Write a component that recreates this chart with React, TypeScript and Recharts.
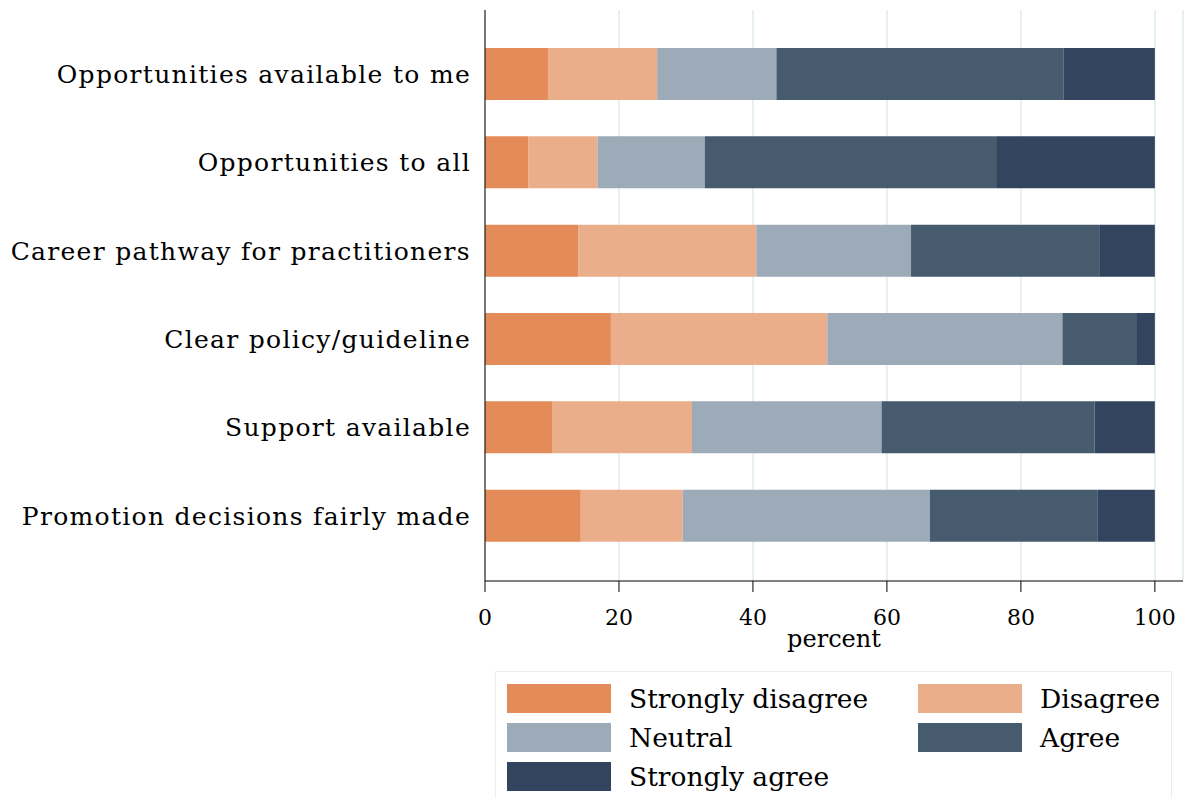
import { BarChart, Bar, XAxis, YAxis, CartesianGrid, ReferenceLine } from 'recharts';

const categories = [
  'Opportunities available to me',
  'Opportunities to all',
  'Career pathway for practitioners',
  'Clear policy/guideline',
  'Support available',
  'Promotion decisions fairly made',
];

const stronglyDisagree = [9.4, 6.5, 13.9, 18.8, 10.1, 14.3];
const disagree = [16.3, 10.3, 26.6, 32.3, 20.8, 15.2];
const neutral = [17.8, 16.0, 23.1, 35.1, 28.3, 36.9];
const agree = [42.9, 43.5, 28.2, 11.0, 31.8, 25.0];
const stronglyAgree = [13.6, 23.7, 8.2, 2.8, 9.0, 8.6];

const xTicks = [0, 20, 40, 60, 80, 100];

const series = [
  { key: 'sd', name: 'Strongly disagree', color: '#e38b59', values: stronglyDisagree },
  { key: 'd', name: 'Disagree', color: '#ebae8b', values: disagree },
  { key: 'n', name: 'Neutral', color: '#9dabb9', values: neutral },
  { key: 'a', name: 'Agree', color: '#475b6f', values: agree },
  { key: 'sa', name: 'Strongly agree', color: '#33455e', values: stronglyAgree },
];

const data = categories.map((category, i) => {
  const row: Record<string, string | number> = { category };
  series.forEach((s) => {
    row[s.key] = s.values[i];
  });
  return row;
});

const gridColor = '#e6f0f1';
const serif = '"DejaVu Serif", serif';

function LegendBox() {
  return (
    <div
      style={{
        position: 'absolute',
        left: 495,
        top: 671,
        width: 677,
        height: 140,
        border: `1px solid ${gridColor}`,
        boxSizing: 'border-box',
        fontFamily: serif,
        fontSize: 26.5,
        color: '#000',
      }}
    >
      {series.map((s, i) => (
        <div
          key={s.key}
          style={{
            position: 'absolute',
            left: i % 2 === 0 ? 11 : 422,
            top: 12 + Math.floor(i / 2) * 39,
            display: 'flex',
            alignItems: 'center',
            height: 29,
          }}
        >
          <div style={{ width: 104, height: 29, background: s.color }} />
          <span style={{ marginLeft: 18, whiteSpace: 'nowrap' }}>{s.name}</span>
        </div>
      ))}
    </div>
  );
}

export default function App() {
  return (
    <div style={{ position: 'absolute', left: 0, top: 0, width: 1186, height: 798, background: '#fff', overflow: 'hidden' }}>
      <BarChart
        width={1186}
        height={798}
        data={data}
        layout="vertical"
        barSize={52}
        margin={{ top: 10, right: 3, left: 0, bottom: 138 }}
      >
        <CartesianGrid vertical horizontal={false} stroke={gridColor} strokeWidth={2} />
        <ReferenceLine x={104.2} stroke={gridColor} strokeWidth={2} />
        <XAxis
          type="number"
          domain={[0, 104.2]}
          ticks={xTicks}
          allowDataOverflow
          height={79}
          stroke="#000"
          tickSize={11}
          tickMargin={17}
          tick={{ fill: '#000', fontSize: 22, fontFamily: serif }}
          label={{ value: 'percent', position: 'insideBottom', offset: 13, fill: '#000', fontSize: 24, fontFamily: serif }}
        />
        <YAxis
          type="category"
          dataKey="category"
          width={485}
          stroke="#000"
          tickLine={false}
          tickSize={0}
          tickMargin={14}
          padding={{ top: 20, bottom: 21 }}
          tick={{ fill: '#000', fontSize: 25, fontFamily: serif, letterSpacing: 1.3 }}
        />
        {series.map((s) => (
          <Bar key={s.key} dataKey={s.key} name={s.name} stackId="all" fill={s.color} isAnimationActive={false} />
        ))}
      </BarChart>
      <LegendBox />
    </div>
  );
}
